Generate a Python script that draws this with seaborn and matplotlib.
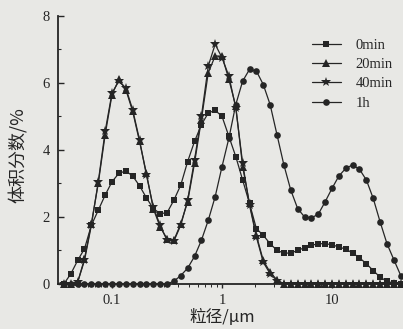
import numpy as np
import pandas as pd
import matplotlib
matplotlib.use('Agg')
import matplotlib.pyplot as plt
import seaborn as sns
from matplotlib.ticker import MultipleLocator, LogLocator, NullFormatter

# particle size bins (um)
sizes = [0.0365, 0.0422, 0.0487, 0.0562, 0.0649, 0.0750, 0.0866, 0.1000, 0.1155, 0.1334,
         0.1540, 0.1778, 0.2054, 0.2371, 0.2738, 0.3162, 0.3652, 0.4217, 0.4870, 0.5623,
         0.6494, 0.7499, 0.8660, 1.000, 1.155, 1.334, 1.540, 1.778, 2.054, 2.371,
         2.738, 3.162, 3.652, 4.217, 4.870, 5.623, 6.494, 7.499, 8.660, 10.00,
         11.55, 13.34, 15.40, 17.78, 20.54, 23.71, 27.38, 31.62, 36.52, 42.17]

# volume fraction (%)
v_0min = [0, 0.3, 0.7, 1.05, 1.75, 2.2, 2.65, 3.05, 3.3, 3.37,
          3.22, 2.93, 2.57, 2.25, 2.1, 2.12, 2.5, 2.95, 3.65, 4.25,
          4.75, 5.1, 5.18, 5.0, 4.4, 3.8, 3.1, 2.4, 1.65, 1.45,
          1.2, 1.0, 0.92, 0.92, 1.0, 1.08, 1.15, 1.2, 1.2, 1.17,
          1.1, 1.04, 0.92, 0.78, 0.6, 0.4, 0.2, 0.08, 0.02, 0]
v_20min = [0, 0, 0.05, 0.75, 1.8, 3.0, 4.45, 5.65, 6.1, 5.8,
           5.15, 4.25, 3.3, 2.25, 1.7, 1.35, 1.3, 1.8, 2.45, 3.6,
           4.9, 6.3, 6.8, 6.8, 6.1, 5.3, 3.5, 2.4, 1.45, 0.7,
           0.35, 0.12, 0, 0, 0, 0, 0, 0, 0, 0,
           0, 0, 0, 0, 0, 0, 0, 0, 0, 0]
v_40min = [0, 0, 0.05, 0.7, 1.75, 3.05, 4.55, 5.7, 6.05, 5.85,
           5.2, 4.3, 3.25, 2.3, 1.75, 1.3, 1.28, 1.75, 2.5, 3.7,
           5.0, 6.5, 7.15, 6.75, 6.2, 5.25, 3.6, 2.35, 1.4, 0.65,
           0.3, 0.1, 0, 0, 0, 0, 0, 0, 0, 0,
           0, 0, 0, 0, 0, 0, 0, 0, 0, 0]
v_1h = [0, 0, 0, 0, 0, 0, 0, 0, 0, 0,
        0, 0, 0, 0, 0, 0, 0.08, 0.25, 0.47, 0.82,
        1.3, 1.9, 2.6, 3.5, 4.35, 5.35, 6.05, 6.4, 6.35, 5.95,
        5.35, 4.45, 3.55, 2.8, 2.25, 2.0, 1.97, 2.08, 2.45, 2.85,
        3.22, 3.45, 3.55, 3.42, 3.1, 2.55, 1.85, 1.2, 0.72, 0.25]

labels = ['0min', '20min', '40min', '1h']
series = [v_0min, v_20min, v_40min, v_1h]

df = pd.concat([pd.DataFrame({'size': sizes, 'frac': v, 'time': lab})
                for lab, v in zip(labels, series)], ignore_index=True)

sns.set_style('ticks')
plt.rcParams['font.family'] = ['Liberation Serif', 'DejaVu Sans']
cjk = ['Noto Sans CJK SC', 'DejaVu Sans']
bg = '#e8e8e5'
ink = '#252525'

fig = plt.figure(figsize=(4.03, 3.29), dpi=100, facecolor=bg)
ax = fig.add_axes([0.144, 0.137, 0.856, 0.815])
ax.set_facecolor(bg)

styles = {'0min': ('s', 4.6), '20min': ('^', 5.2), '40min': ('*', 7.0), '1h': ('o', 4.8)}
for lab in labels:
    m, ms = styles[lab]
    sns.lineplot(data=df[df['time'] == lab], x='size', y='frac', ax=ax,
                 color=ink, marker=m, markersize=ms, markeredgewidth=0,
                 linewidth=0.9, label=lab, clip_on=False, sort=False)

ax.set_xscale('log')
ax.set_xlim(0.0323, 44.2)
ax.set_ylim(0, 8)
ax.set_xticks([0.1, 1, 10], labels=['0.1', '1', '10'])
ax.xaxis.set_minor_locator(LogLocator(base=10, subs=np.arange(2, 10)))
ax.xaxis.set_minor_formatter(NullFormatter())
ax.yaxis.set_major_locator(MultipleLocator(2))
ax.yaxis.set_minor_locator(MultipleLocator(1))

for s in ['top', 'right']:
    ax.spines[s].set_visible(False)
for s in ['left', 'bottom']:
    ax.spines[s].set_linewidth(1.3)
    ax.spines[s].set_color(ink)

ax.tick_params(axis='y', which='major', direction='in', length=4, width=1, pad=6,
               labelsize=10.5, colors=ink)
ax.tick_params(axis='y', which='minor', direction='in', length=2.5, width=0.8, colors=ink)
ax.tick_params(axis='x', which='major', direction='out', length=3, width=1, pad=4,
               labelsize=10.5, colors=ink)
ax.tick_params(axis='x', which='minor', direction='out', length=2, width=0.7, colors=ink)

ax.set_xlabel('粒径/μm', family=cjk, fontsize=12, color=ink)
ax.set_ylabel('体积分数/%', family=cjk, fontsize=13, color=ink)
ax.xaxis.set_label_coords(0.475, -0.095)
ax.yaxis.set_label_coords(-0.087, 0.48)

ax.legend(loc='upper left', bbox_to_anchor=(0.755, 0.905), bbox_transform=fig.transFigure,
          frameon=False, fontsize=10.5, handlelength=2.0, handletextpad=1.0,
          labelspacing=0.42, borderpad=0, numpoints=1)

fig.savefig('out.png', dpi=100, facecolor=bg)
